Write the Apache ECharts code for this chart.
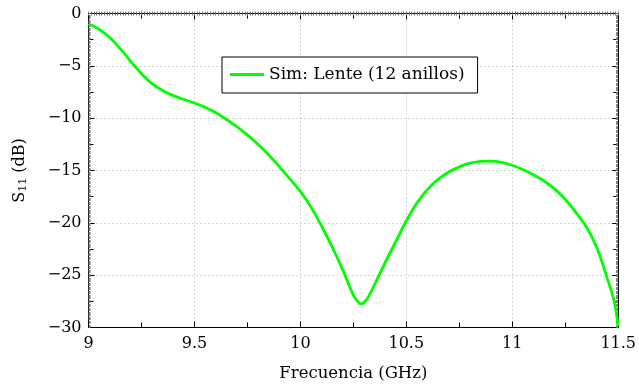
<!DOCTYPE html>
<html>
<head>
<meta charset="utf-8">
<style>
  html, body { margin: 0; padding: 0; background: #fff; }
  #chart { width: 639px; height: 388px; }
</style>
<script src="https://cdn.jsdelivr.net/npm/echarts@6/dist/echarts.min.js"></script>
</head>
<body>
<div id="chart"></div>
<script>
// Frequency sweep (GHz) and simulated reflection coefficient S11 (dB)
const freqGHz = [9.00, 9.05, 9.10, 9.15, 9.20, 9.25, 9.30, 9.35, 9.40, 9.45,
                 9.50, 9.55, 9.60, 9.65, 9.70, 9.75, 9.80, 9.85, 9.90, 9.95,
                 10.00, 10.05, 10.10, 10.15, 10.20, 10.25, 10.27, 10.285, 10.30, 10.32,
                 10.35, 10.40, 10.45, 10.50, 10.55, 10.60, 10.65, 10.70, 10.75, 10.80,
                 10.85, 10.90, 10.95, 11.00, 11.05, 11.10, 11.15, 11.20, 11.25, 11.30,
                 11.35, 11.40, 11.45, 11.48, 11.50];
const s11dB = [-1.0, -1.5, -2.3, -3.35, -4.6, -5.75, -6.7, -7.35, -7.85, -8.2,
               -8.55, -8.95, -9.45, -10.1, -10.8, -11.6, -12.5, -13.5, -14.6, -15.8,
               -17.0, -18.5, -20.3, -22.3, -24.5, -26.9, -27.5, -27.75, -27.6, -27.1,
               -25.9, -23.8, -21.8, -19.8, -18.1, -16.8, -15.85, -15.15, -14.65, -14.3,
               -14.12, -14.1, -14.22, -14.5, -14.9, -15.4, -16.0, -16.75, -17.75, -19.0,
               -20.4, -22.4, -25.4, -27.4, -29.9];
const seriesName = 'Sim: Lente (12 anillos)';
const xTitle = 'Frecuencia (GHz)';

const FONT = '"DejaVu Serif", "Liberation Serif", serif';
const fmtNum = v => String(+v.toFixed(2)).replace('-', '\u2212');

const chart = echarts.init(document.getElementById('chart'), null, { renderer: 'canvas' });

const xBase = { type: 'value', min: 9, max: 11.5, gridIndex: 0 };
const yBase = { type: 'value', min: -30, max: 0, gridIndex: 0 };
const hidden = { axisLabel: { show: false }, splitLine: { show: false } };

chart.setOption({
  animation: false,
  grid: { left: 88.5, right: 18.5, top: 13.5, bottom: 60.5, containLabel: false },
  legend: {
    data: [{ name: seriesName, icon: 'rect' }],
    left: 222, top: 57,
    padding: [9, 13, 10, 8],
    itemWidth: 34, itemHeight: 3, itemGap: 4,
    borderColor: '#000', borderWidth: 1,
    backgroundColor: '#fff',
    textStyle: { fontFamily: FONT, fontSize: 17, color: '#000' }
  },
  xAxis: [
    Object.assign({}, xBase, {
      position: 'bottom', interval: 0.5,
      name: xTitle, nameLocation: 'middle', nameGap: 38,
      nameTextStyle: { fontFamily: FONT, fontSize: 16.5, color: '#000' },
      axisLine: { show: true, onZero: false, lineStyle: { color: '#000', width: 1 } },
      axisTick: { show: true, inside: true, length: 6, lineStyle: { color: '#000' } },
      minorTick: { show: true, splitNumber: 2, length: 5, lineStyle: { color: '#000' } },
      axisLabel: { fontFamily: FONT, fontSize: 16, color: '#000', margin: 8, formatter: fmtNum },
      splitLine: { show: true, lineStyle: { color: '#aaa', type: [1, 3], width: 1 } }
    }),
    Object.assign({}, xBase, hidden, {
      position: 'top', interval: 0.5,
      axisLine: { show: true, onZero: false, lineStyle: { color: '#000', width: 1 } },
      axisTick: { show: true, inside: true, length: 6, lineStyle: { color: '#000' } },
      minorTick: { show: true, splitNumber: 2, length: 5, lineStyle: { color: '#000' } }
    }),
    Object.assign({}, xBase, hidden, {
      position: 'bottom', interval: 0.05,
      axisLine: { show: false },
      axisTick: { show: true, inside: true, length: 2, lineStyle: { color: '#777' } },
      minorTick: { show: true, splitNumber: 4, length: 2, lineStyle: { color: '#777' } }
    }),
    Object.assign({}, xBase, hidden, {
      position: 'top', interval: 0.05,
      axisLine: { show: false },
      axisTick: { show: true, inside: true, length: 2, lineStyle: { color: '#777' } },
      minorTick: { show: true, splitNumber: 4, length: 2, lineStyle: { color: '#777' } }
    })
  ],
  yAxis: [
    Object.assign({}, yBase, {
      position: 'left', interval: 5,
      name: 'S{sub|11} (dB)', nameLocation: 'middle', nameGap: 60, nameRotate: 90,
      nameTextStyle: {
        fontFamily: FONT, fontSize: 16, color: '#000',
        rich: { sub: { fontFamily: FONT, fontSize: 11, color: '#000', verticalAlign: 'bottom', padding: [6, 0, 0, 0] } }
      },
      axisLine: { show: true, onZero: false, lineStyle: { color: '#000', width: 1 } },
      axisTick: { show: true, inside: true, length: 6, lineStyle: { color: '#000' } },
      minorTick: { show: true, splitNumber: 2, length: 5, lineStyle: { color: '#000' } },
      axisLabel: { fontFamily: FONT, fontSize: 16, color: '#000', margin: 7, formatter: fmtNum },
      splitLine: { show: true, lineStyle: { color: '#aaa', type: [1, 3], width: 1 } }
    }),
    Object.assign({}, yBase, hidden, {
      position: 'right', interval: 5,
      axisLine: { show: true, onZero: false, lineStyle: { color: '#000', width: 1 } },
      axisTick: { show: true, inside: true, length: 6, lineStyle: { color: '#000' } },
      minorTick: { show: true, splitNumber: 2, length: 5, lineStyle: { color: '#000' } }
    }),
    Object.assign({}, yBase, hidden, {
      position: 'left', interval: 0.5,
      axisLine: { show: false },
      axisTick: { show: true, inside: true, length: 2, lineStyle: { color: '#777' } },
      minorTick: { show: true, splitNumber: 4, length: 2, lineStyle: { color: '#777' } }
    }),
    Object.assign({}, yBase, hidden, {
      position: 'right', interval: 0.5,
      axisLine: { show: false },
      axisTick: { show: true, inside: true, length: 2, lineStyle: { color: '#777' } },
      minorTick: { show: true, splitNumber: 4, length: 2, lineStyle: { color: '#777' } }
    })
  ],
  series: [{
    name: seriesName,
    type: 'line',
    xAxisIndex: 0, yAxisIndex: 0,
    data: freqGHz.map((f, i) => [f, s11dB[i]]),
    smooth: 0.3,
    symbol: 'none',
    clip: true,
    color: '#00ff00',
    lineStyle: { color: '#00ff00', width: 2.8 }
  }]
});
</script>
</body>
</html>
